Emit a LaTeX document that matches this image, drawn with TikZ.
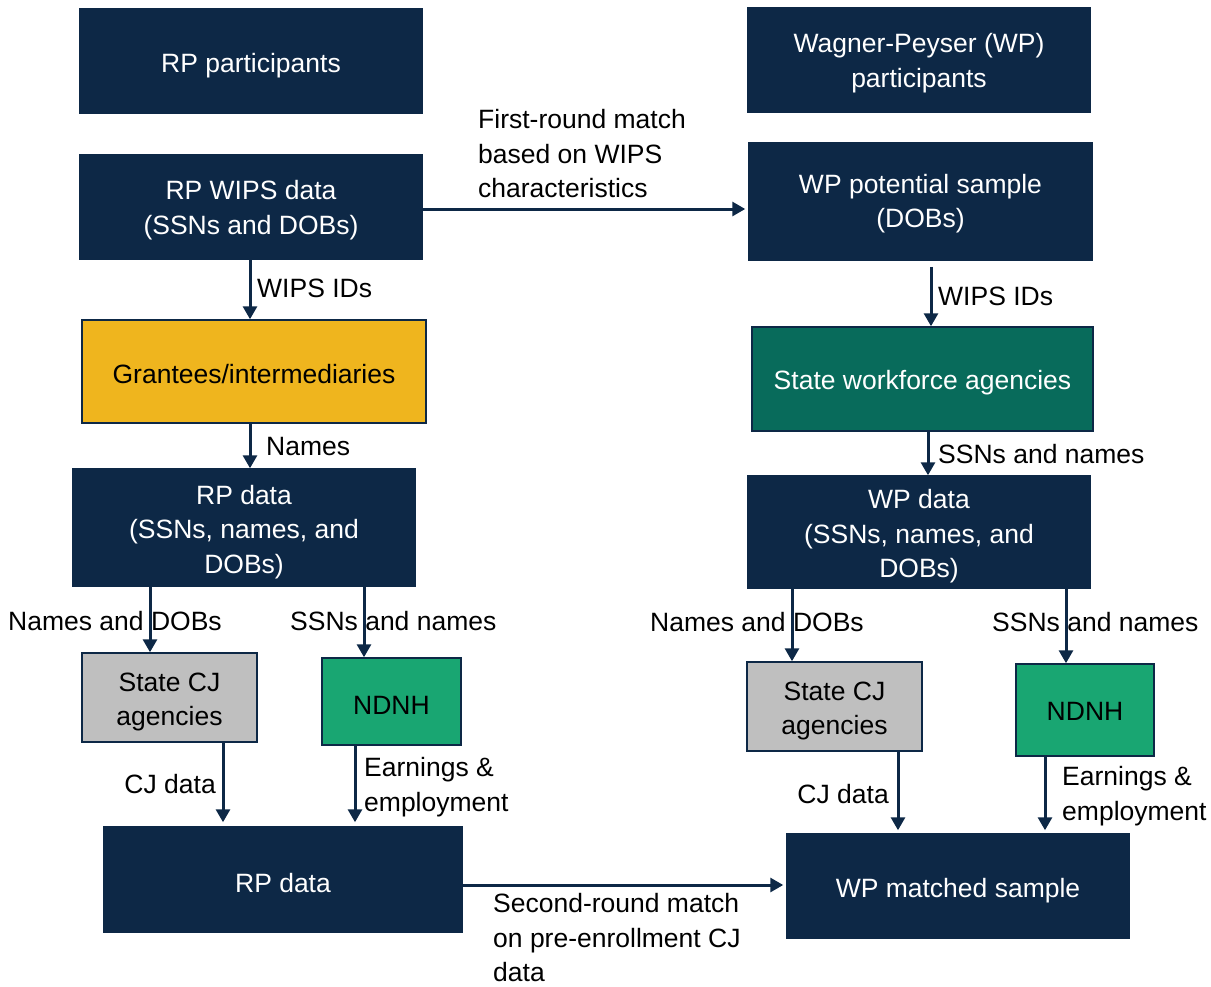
\documentclass[tikz,border=0pt]{standalone}
\usepackage{fontspec}
\setmainfont{Liberation Sans}
\usetikzlibrary{arrows.meta}
\definecolor{navy}{HTML}{0D2846}
\definecolor{gold}{HTML}{EFB51E}
\definecolor{teal2}{HTML}{086B5B}
\definecolor{green2}{HTML}{19A672}
\definecolor{gray2}{HTML}{BFBFBF}
\tikzset{
  box/.style={draw=navy, line width=1.5pt, rectangle, align=center, inner sep=0pt,
    font=\fontsize{26.5}{34.5}\selectfont},
  one/.style={text height=26.5pt},
  two/.style={text height=60pt},
  three/.style={text height=96.5pt},
  darkbox/.style={box, fill=navy, text=white},
  goldbox/.style={box, fill=gold, text=black},
  tealbox/.style={box, fill=teal2, text=white},
  greenbox/.style={box, fill=green2, text=black},
  graybox/.style={box, fill=gray2, text=black},
  arr/.style={draw=navy, line width=3pt, -{Triangle[length=13pt,width=14pt]}},
  lbl/.style={font=\fontsize{26.5}{34.5}\selectfont, align=left, inner sep=0pt, text=black},
}
\begin{document}
\begin{tikzpicture}[x=1pt,y=-1pt]
\useasboundingbox[fill=white] (0,0) rectangle (1211,986);
% boxes
\node[darkbox, one, minimum width=342pt, minimum height=104pt, text height=29pt] (rpp) at (251,61) {RP participants};
\node[darkbox, two, minimum width=342pt, minimum height=104pt] (wpp) at (919,60) {Wagner-Peyser (WP)\\participants};
\node[darkbox, two, minimum width=342pt, minimum height=104pt] (rpw) at (251,207) {RP WIPS data\\(SSNs and DOBs)};
\node[darkbox, two, minimum width=343pt, minimum height=117pt, text height=58pt] (wps) at (920.5,201.5) {WP potential sample\\(DOBs)};
\node[goldbox, one, minimum width=344pt, minimum height=103pt, text height=24pt] (gra) at (254,371.5) {Grantees/intermediaries};
\node[tealbox, one, minimum width=341pt, minimum height=104pt] (swa) at (922.5,379) {State workforce agencies};
\node[darkbox, three, minimum width=342pt, minimum height=117pt] (rpd) at (244,527.5) {RP data\\(SSNs, names, and\\DOBs)};
\node[darkbox, three, minimum width=342pt, minimum height=112pt] (wpd) at (919,532) {WP data\\(SSNs, names, and\\DOBs)};
\node[graybox, two, minimum width=175pt, minimum height=89pt, text height=62pt] (cjl) at (169.5,697.5) {State CJ\\agencies};
\node[greenbox, one, minimum width=139pt, minimum height=87pt] (ndl) at (391.5,701.5) {NDNH};
\node[graybox, two, minimum width=175pt, minimum height=89pt, text height=62pt] (cjr) at (834.5,706.5) {State CJ\\agencies};
\node[greenbox, one, minimum width=138pt, minimum height=92pt, text height=21pt] (ndr) at (1085,710) {NDNH};
\node[darkbox, one, minimum width=358pt, minimum height=105pt] (rpb) at (283,879.5) {RP data};
\node[darkbox, one, minimum width=342pt, minimum height=104pt, text height=29pt] (wpm) at (958,886) {WP matched sample};
% connectors
\draw[arr, shorten >=3pt] (rpw.east |- 0,209) -- (wps.west |- 0,209);
\draw[arr] (rpw.south -| 250,0) -- (gra.north -| 250,0);
\draw[arr] (gra.south -| 250,0) -- (rpd.north -| 250,0);
\draw[arr] (rpd.south -| 150,0) -- (cjl.north -| 150,0);
\draw[arr] (rpd.south -| 364,0) -- (ndl.north -| 364,0);
\draw[arr, shorten >=4pt] (cjl.south -| 223,0) -- (rpb.north -| 223,0);
\draw[arr, shorten >=4pt] (ndl.south -| 355,0) -- (rpb.north -| 355,0);
\draw[arr, shorten >=3pt] (rpb.east |- 0,885) -- (wpm.west |- 0,885);
\draw[arr, shorten <=6pt] (wps.south -| 931,0) -- (swa.north -| 931,0);
\draw[arr] (swa.south -| 928,0) -- (wpd.north -| 928,0);
\draw[arr] (wpd.south -| 792,0) -- (cjr.north -| 792,0);
\draw[arr] (wpd.south -| 1066,0) -- (ndr.north -| 1066,0);
\draw[arr, shorten >=3pt] (cjr.south -| 898,0) -- (wpm.north -| 898,0);
\draw[arr, shorten >=3pt] (ndr.south -| 1045,0) -- (wpm.north -| 1045,0);
% labels
\node[lbl, anchor=west] (l1) at (478,154) {First-round match\\based on WIPS\\characteristics};
\node[lbl, anchor=west] (l2) at (257,288) {WIPS IDs};
\node[lbl, anchor=west] (l3) at (266,447) {Names};
\node[lbl, anchor=west] (l4) at (8,621) {Names and DOBs};
\node[lbl, anchor=west] (l5) at (290,621) {SSNs and names};
\node[lbl, anchor=east] (l6) at (216,784) {CJ data};
\node[lbl, anchor=west] (l7) at (364,787) {Earnings \&\\employment};
\node[lbl, anchor=west] (l8) at (493,938) {Second-round match\\on pre-enrollment CJ\\data};
\node[lbl, anchor=west] (l9) at (938,296) {WIPS IDs};
\node[lbl, anchor=west] (l10) at (938,454) {SSNs and names};
\node[lbl, anchor=west] (l11) at (650,622) {Names and DOBs};
\node[lbl, anchor=west] (l12) at (992,622) {SSNs and names};
\node[lbl, anchor=east] (l13) at (889,794) {CJ data};
\node[lbl, anchor=west] (l14) at (1062,796) {Earnings \&\\employment};
\end{tikzpicture}
\end{document}
